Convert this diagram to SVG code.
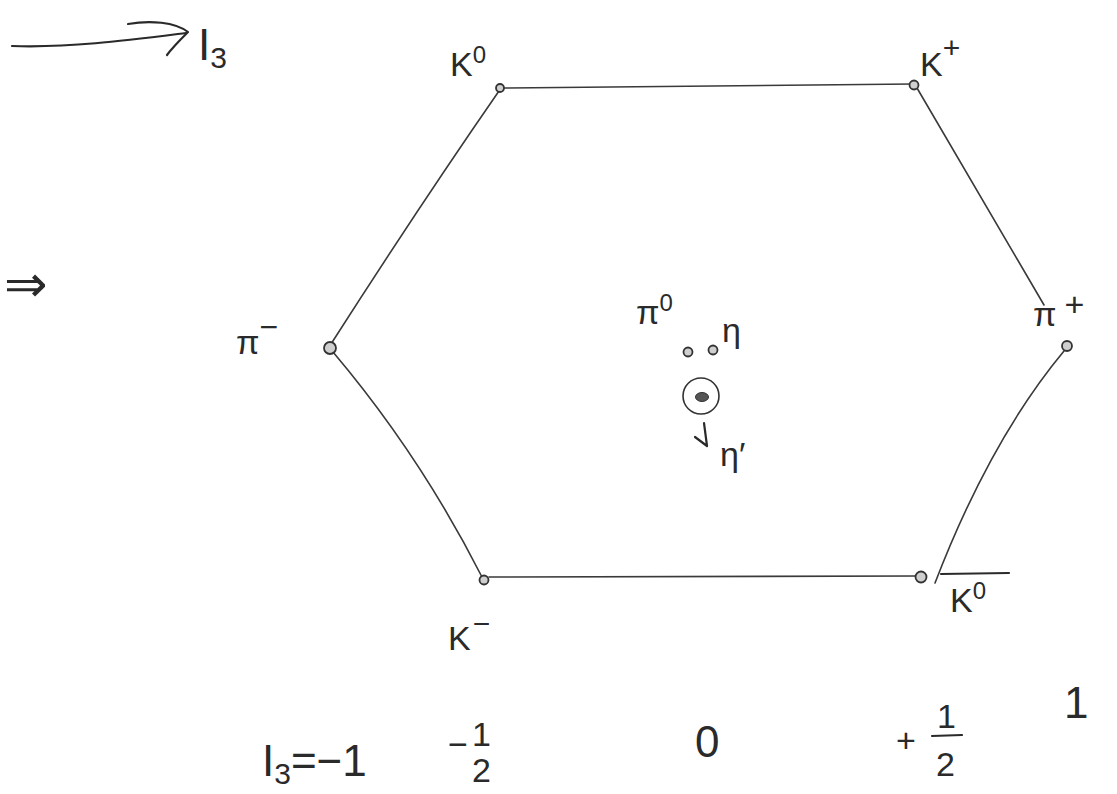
<svg xmlns="http://www.w3.org/2000/svg" width="1117" height="794" viewBox="0 0 1117 794">
<defs>
<style>
.edge{fill:none;stroke:#3a3a3a;stroke-width:1.6;stroke-linecap:round}
.ink{fill:none;stroke:#2a2a2a;stroke-width:2.2;stroke-linecap:round;stroke-linejoin:round}
.dot{fill:#cfcfcf;stroke:#333;stroke-width:1.8}
.lbl{font-family:"Liberation Sans","DejaVu Sans",sans-serif;fill:#2a2a2a;font-size:34px}
.big{font-family:"Liberation Sans","DejaVu Sans",sans-serif;fill:#2a2a2a;font-size:44px}
</style>
</defs>
<rect width="1117" height="794" fill="#ffffff"/>

<g id="axis-arrow">
<path class="ink" d="M12,46 C70,48 130,40 186,33"/>
<path class="ink" d="M128,24 C150,20 175,22 188,32 C180,40 172,48 167,55"/>
<text class="big" x="198" y="60">I<tspan font-size="30" dy="8">3</tspan></text>
</g>

<g id="implies">
<text x="4" y="302" font-family="'DejaVu Sans',sans-serif" font-size="52" fill="#2a2a2a">⇒</text>
</g>

<g id="connectors">
<path class="edge" d="M502,88 L913,84"/>
<path class="edge" d="M499,91 Q420,205 331,344"/>
<path class="edge" d="M333,352 Q420,455 482,577"/>
<path class="edge" d="M489,577 L917,576"/>
<path class="edge" d="M917,88 L1044,305"/>
<path class="edge" d="M1064,351 Q990,440 935,583"/>
</g>

<g id="K0">
<circle class="dot" cx="500" cy="88" r="4"/>
<text class="lbl" x="450" y="76">K<tspan font-size="24" dy="-13">0</tspan></text>
</g>

<g id="Kplus">
<circle class="dot" cx="914" cy="85" r="4.5"/>
<text class="lbl" x="920" y="76" font-size="38">K<tspan font-size="30" dy="-18">+</tspan></text>
</g>

<g id="piminus">
<circle class="dot" cx="330" cy="348" r="6"/>
<text class="lbl" x="236" y="354" font-size="38">π<tspan font-size="32" dy="-16">−</tspan></text>
</g>

<g id="piplus">
<circle class="dot" cx="1067" cy="346" r="5"/>
<text class="lbl" x="1033" y="326" font-size="38">π<tspan font-size="34" dx="8" dy="-10">+</tspan></text>
</g>

<g id="Kminus">
<circle class="dot" cx="484" cy="580" r="4.5"/>
<text class="lbl" x="448" y="650" font-size="36">K<tspan font-size="30" dx="2" dy="-16">−</tspan></text>
</g>

<g id="K0bar">
<circle class="dot" cx="921" cy="577" r="5.5"/>
<path class="ink" d="M941,574 L1009,573"/>
<text class="lbl" x="950" y="612" font-size="36">K<tspan font-size="24" dy="-13">0</tspan></text>
</g>

<g id="pi0">
<circle class="dot" cx="688" cy="352" r="4.5"/>
<text class="lbl" x="636" y="324" font-size="32">π<tspan font-size="24" dy="-13">0</tspan></text>
</g>

<g id="eta">
<circle class="dot" cx="713" cy="350" r="4.5"/>
<text class="lbl" x="722" y="342" font-size="48">η</text>
</g>

<g id="etaprime">
<circle cx="701" cy="396" r="18" fill="none" stroke="#333" stroke-width="1.6"/>
<ellipse cx="702" cy="397" rx="6.5" ry="4.5" fill="#555" stroke="#333" stroke-width="1"/>
<path class="ink" d="M704,423 L707,446 M695,437 L707,446" stroke-width="1.8"/>
<text class="lbl" x="720" y="466" font-size="44">η′</text>
</g>

<g id="I3-labels">
<text class="big" x="262" y="776">I<tspan font-size="30" dy="8">3</tspan><tspan dy="-8">=−1</tspan></text>
<text class="lbl" x="448" y="756" font-size="34">−</text>
<text class="lbl" x="472" y="746" font-size="26">1</text>
<text class="lbl" x="472" y="782" font-size="32">2</text>
<text class="big" x="695" y="757">0</text>
<text class="lbl" x="896" y="752" font-size="34">+</text>
<text class="lbl" x="937" y="728" font-size="22">1</text>
<path class="ink" d="M932,736 L962,735" stroke-width="1.6"/>
<text class="lbl" x="936" y="776" font-size="34">2</text>
<text class="big" x="1064" y="718">1</text>
</g>
</svg>
